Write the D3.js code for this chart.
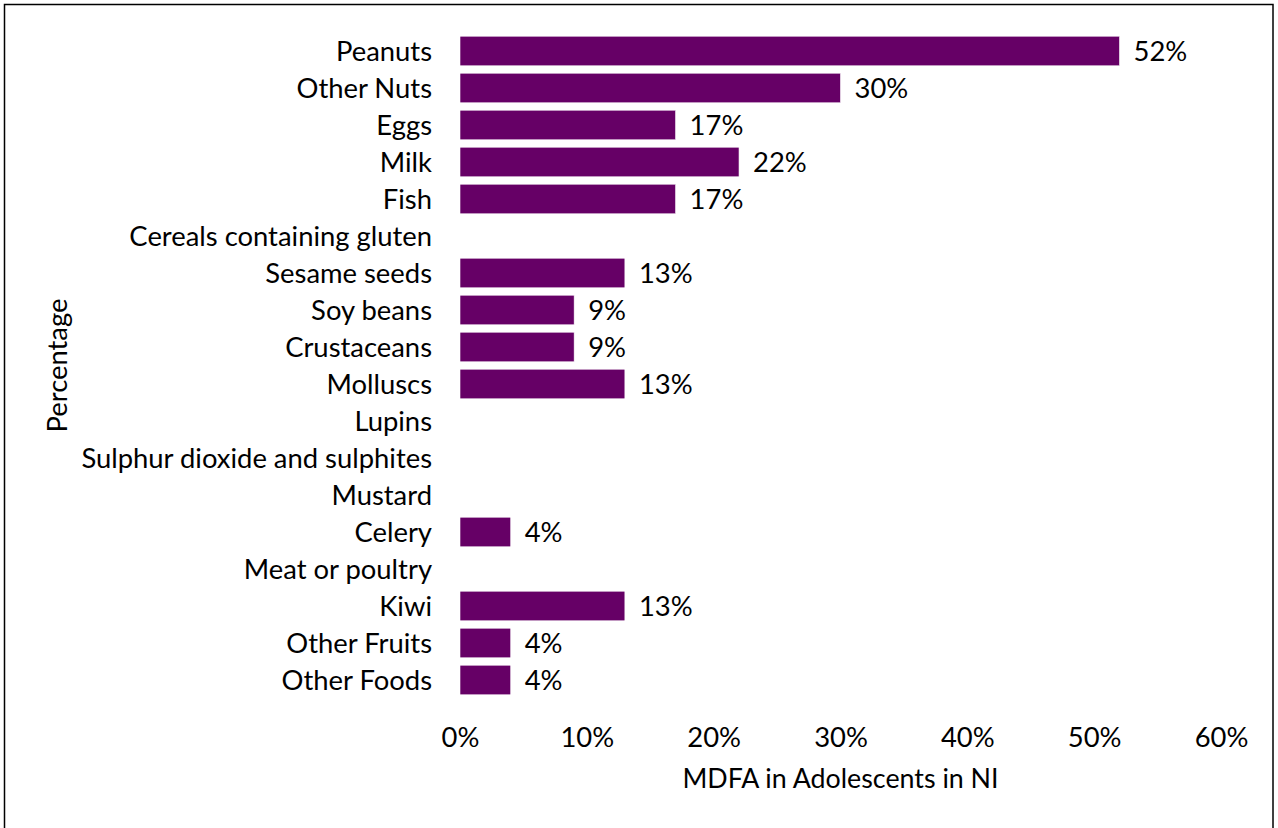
<!DOCTYPE html>
<html>
<head>
<meta charset="utf-8">
<script src="https://cdn.jsdelivr.net/npm/d3@7"></script>
<style>
  html, body { margin: 0; padding: 0; background: #fff; }
  svg { display: block; }
  text { font-family: Lato, "Open Sans", sans-serif; fill: #000; }
</style>
</head>
<body>
<svg id="chart" width="1278" height="828"></svg>
<script>
// Allergen categories (top to bottom) and share of MDFA cases, in percent
const categories = [
  "Peanuts", "Other Nuts", "Eggs", "Milk", "Fish",
  "Cereals containing gluten", "Sesame seeds", "Soy beans", "Crustaceans",
  "Molluscs", "Lupins", "Sulphur dioxide and sulphites", "Mustard",
  "Celery", "Meat or poultry", "Kiwi", "Other Fruits", "Other Foods"
];
const values = [52, 30, 17, 22, 17, 0, 13, 9, 9, 13, 0, 0, 0, 4, 0, 13, 4, 4];
const xTicks = [0, 10, 20, 30, 40, 50, 60];
const xTitle = "MDFA in Adolescents in NI";
const yTitle = "Percentage";

const data = categories.map((c, i) => ({ category: c, value: values[i] }));

const svg = d3.select("#chart");
const fontSize = 27.4;
const barColor = "#660066";

const plot = { left: 460, right: 1221, top: 32.5, bottom: 698.5 };

const x = d3.scaleLinear().domain([0, 60]).range([plot.left, plot.right]);
const y = d3.scaleBand()
  .domain(categories)
  .range([plot.top, plot.bottom])
  .paddingInner(0.2)
  .paddingOuter(0.1);

// outer frame
svg.append("rect")
  .attr("x", 4.5).attr("y", 4.5)
  .attr("width", 1268.5).attr("height", 840)
  .attr("fill", "none")
  .attr("stroke", "#000")
  .attr("stroke-width", 1.5);

// bars
svg.append("g")
  .selectAll("rect")
  .data(data.filter(d => d.value > 0))
  .join("rect")
  .attr("x", x(0))
  .attr("y", d => y(d.category))
  .attr("width", d => x(d.value) - x(0))
  .attr("height", y.bandwidth())
  .attr("fill", barColor)
  .attr("stroke", "#fff")
  .attr("stroke-width", 0.6);

// value labels
svg.append("g")
  .selectAll("text")
  .data(data.filter(d => d.value > 0))
  .join("text")
  .attr("x", d => x(d.value) + 14)
  .attr("y", d => y(d.category) + y.bandwidth() / 2)
  .attr("dy", "0.38em")
  .style("font-size", fontSize + "px")
  .text(d => d.value + "%");

// category axis (labels only)
const yAxis = d3.axisLeft(y).tickSize(0).tickPadding(28);
const gy = svg.append("g")
  .attr("transform", `translate(${plot.left},0)`)
  .call(yAxis);
gy.select(".domain").remove();
gy.selectAll("text")
  .attr("dy", "0.38em")
  .style("font-size", fontSize + "px")
  .style("font-family", "Lato, 'Open Sans', sans-serif");

// value axis (labels only)
const xAxis = d3.axisBottom(x).tickValues(xTicks).tickSize(0).tickPadding(0)
  .tickFormat(d => d + "%");
const gx = svg.append("g")
  .attr("transform", `translate(0,${plot.bottom + 38})`)
  .call(xAxis);
gx.select(".domain").remove();
gx.selectAll("text")
  .attr("y", 0)
  .attr("dy", "0.38em")
  .style("font-size", fontSize + "px")
  .style("font-family", "Lato, 'Open Sans', sans-serif");

// axis titles
svg.append("text")
  .attr("x", (plot.left + plot.right) / 2)
  .attr("y", 778)
  .attr("dy", "0.38em")
  .attr("text-anchor", "middle")
  .style("font-size", "26.8px")
  .text(xTitle);

svg.append("text")
  .attr("transform", `translate(57,${(plot.top + plot.bottom) / 2}) rotate(-90)`)
  .attr("text-anchor", "middle")
  .attr("dy", "0.36em")
  .style("font-size", fontSize + "px")
  .text(yTitle);
</script>
</body>
</html>
